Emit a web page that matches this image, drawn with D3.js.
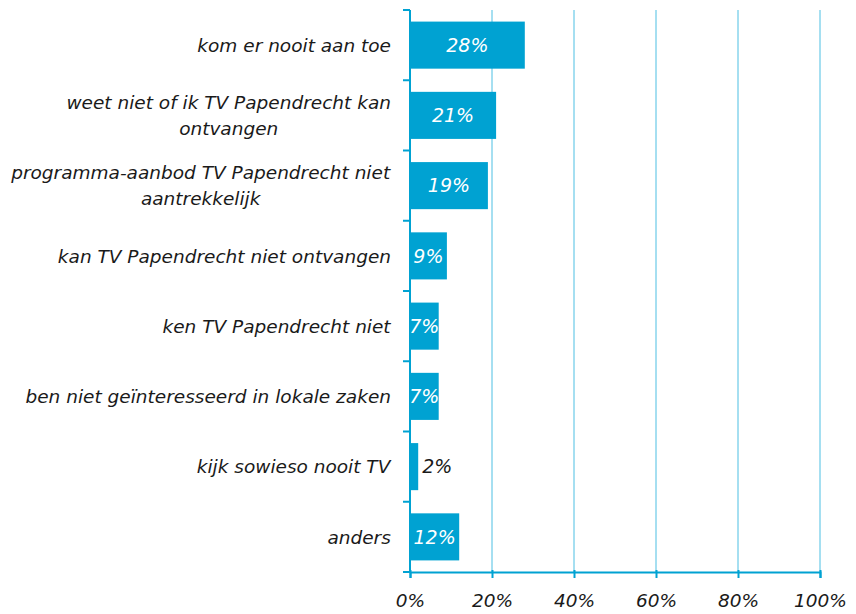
<!DOCTYPE html>
<html>
<head>
<meta charset="utf-8">
<title>TV Papendrecht</title>
<script src="https://d3js.org/d3.v7.min.js"></script>
<style>
body { margin: 0; background: #fff; }
text { font-family: "DejaVu Sans", Verdana, sans-serif; font-style: italic; }
.label { font-size: 18.5px; fill: #1a1a1a; }
.value { font-size: 19px; }
.axis text { font-size: 18.5px; fill: #1a1a1a; }
</style>
</head>
<body>
<div id="chart"></div>
<script>
var categories = [
  "kom er nooit aan toe",
  "weet niet of ik TV Papendrecht kan|ontvangen",
  "programma-aanbod TV Papendrecht niet|aantrekkelijk",
  "kan TV Papendrecht niet ontvangen",
  "ken TV Papendrecht niet",
  "ben niet ge\u00efnteresseerd in lokale zaken",
  "kijk sowieso nooit TV",
  "anders"
];
var values = [28, 21, 19, 9, 7, 7, 2, 12];
var xTicks = [0, 20, 40, 60, 80, 100];

var W = 856, H = 614;
var margin = { top: 10, right: 36, bottom: 42, left: 410 };
var width = W - margin.left - margin.right;
var height = H - margin.top - margin.bottom;
var blue = "#00a2d2";

var svg = d3.select("#chart").append("svg")
    .attr("width", W)
    .attr("height", H)
  .append("g")
    .attr("transform", "translate(" + margin.left + "," + margin.top + ")");

var x = d3.scaleLinear().domain([0, 100]).range([0, width]);
var y = d3.scaleBand().domain(d3.range(categories.length)).range([0, height])
  .paddingInner(0.33).paddingOuter(0.165);

// gridlines
svg.selectAll(".grid").data(xTicks.slice(1))
  .enter().append("line")
    .attr("class", "grid")
    .attr("x1", function(d) { return x(d); })
    .attr("x2", function(d) { return x(d); })
    .attr("y1", 0).attr("y2", height)
    .attr("stroke", "#4cbfe3").attr("stroke-width", 1);

// bars
svg.selectAll(".bar").data(values)
  .enter().append("rect")
    .attr("class", "bar")
    .attr("x", x(0))
    .attr("y", function(d, i) { return y(i); })
    .attr("width", function(d) { return x(d) - x(0); })
    .attr("height", y.bandwidth())
    .attr("fill", blue);

// value labels
svg.selectAll(".value").data(values)
  .enter().append("text")
    .attr("class", "value")
    .attr("x", function(d) { return d < 5 ? x(d) + 4 : x(d / 2); })
    .attr("y", function(d, i) { return y(i) + y.bandwidth() / 2; })
    .attr("dy", "0.36em")
    .attr("text-anchor", function(d) { return d < 5 ? "start" : "middle"; })
    .attr("fill", function(d) { return d < 5 ? "#1a1a1a" : "#fff"; })
    .text(function(d) { return d + "%"; });

// y axis line + ticks at band boundaries
var step = y.step();
var bounds = d3.range(categories.length + 1).map(function(i) {
  return i === 0 ? 0 : (i === categories.length ? height : y(i) - step * y.paddingInner() / 2);
});
svg.append("line")
  .attr("x1", 0).attr("x2", 0).attr("y1", 0).attr("y2", height)
  .attr("stroke", blue).attr("stroke-width", 2);
svg.selectAll(".ytick").data(bounds)
  .enter().append("line")
    .attr("class", "ytick")
    .attr("x1", -7).attr("x2", 0)
    .attr("y1", function(d) { return d; }).attr("y2", function(d) { return d; })
    .attr("stroke", blue).attr("stroke-width", 2);

// category labels
var labels = svg.selectAll(".label").data(categories)
  .enter().append("text")
    .attr("class", "label")
    .attr("text-anchor", "middle");
labels.each(function(d, i) {
  var lines = d.split("|");
  var t = d3.select(this);
  var lh = 26;
  var cy = y(i) + y.bandwidth() / 2;
  lines.forEach(function(l, j) {
    t.append("tspan")
      .attr("x", 0)
      .attr("y", cy + (j - (lines.length - 1) / 2) * lh)
      .attr("dy", "0.36em")
      .text(l);
  });
  var w = this.getBBox().width;
  t.selectAll("tspan").attr("x", -19 - w / 2);
});

// x axis
var xAxis = d3.axisBottom(x).tickValues(xTicks).tickSize(6).tickPadding(16)
  .tickFormat(function(d) { return d + "%"; });
var gx = svg.append("g")
  .attr("class", "axis")
  .attr("transform", "translate(0," + height + ")")
  .call(xAxis);
gx.select(".domain").attr("stroke", blue).attr("stroke-width", 2);
gx.selectAll(".tick line").attr("stroke", blue).attr("stroke-width", 2).attr("y1", -2);
</script>
</body>
</html>
